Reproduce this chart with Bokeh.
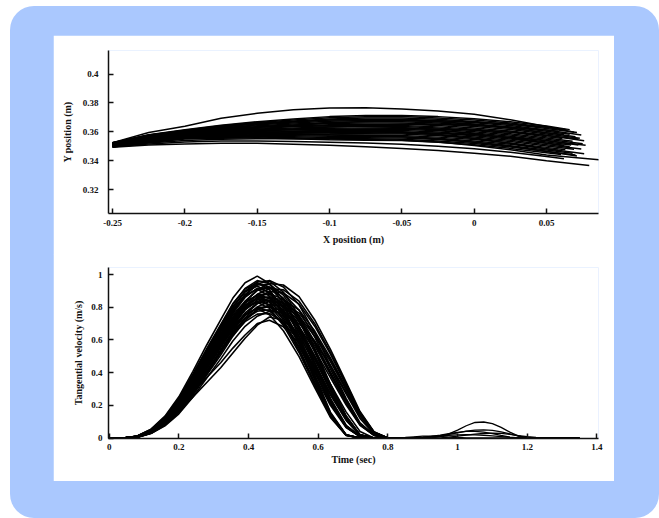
from bokeh.plotting import figure
from bokeh.layouts import column
from bokeh.models import Range1d, FixedTicker, CustomJSTickFormatter
from bokeh.embed import file_html
from bokeh.resources import INLINE

# ---------------- hand paths (top panel) ----------------
# x positions (m) where every trial's y position was sampled
path_x = [-0.25, -0.225, -0.2, -0.175, -0.15, -0.125, -0.1, -0.075, -0.05, -0.025, 0.0, 0.025, 0.05]

# y position (m) of each trial at path_x
path_y = [
    [0.3495, 0.3525, 0.3550, 0.3556, 0.3558, 0.3552, 0.3545, 0.3542, 0.3540, 0.3528, 0.3510, 0.3485, 0.3455],
    [0.3497, 0.3528, 0.3553, 0.3561, 0.3564, 0.3559, 0.3553, 0.3551, 0.3549, 0.3537, 0.3519, 0.3495, 0.3465],
    [0.3498, 0.3531, 0.3556, 0.3565, 0.3569, 0.3566, 0.3561, 0.3559, 0.3557, 0.3546, 0.3528, 0.3504, 0.3474],
    [0.3500, 0.3534, 0.3560, 0.3570, 0.3575, 0.3573, 0.3569, 0.3568, 0.3566, 0.3555, 0.3537, 0.3513, 0.3483],
    [0.3501, 0.3536, 0.3563, 0.3574, 0.3580, 0.3579, 0.3577, 0.3576, 0.3575, 0.3563, 0.3546, 0.3522, 0.3492],
    [0.3503, 0.3539, 0.3566, 0.3579, 0.3586, 0.3586, 0.3585, 0.3585, 0.3584, 0.3572, 0.3555, 0.3532, 0.3502],
    [0.3504, 0.3542, 0.3569, 0.3583, 0.3592, 0.3593, 0.3593, 0.3593, 0.3592, 0.3581, 0.3564, 0.3541, 0.3511],
    [0.3506, 0.3545, 0.3573, 0.3588, 0.3598, 0.3600, 0.3601, 0.3602, 0.3601, 0.3590, 0.3573, 0.3550, 0.3520],
    [0.3507, 0.3547, 0.3576, 0.3592, 0.3603, 0.3606, 0.3609, 0.3610, 0.3609, 0.3599, 0.3582, 0.3559, 0.3529],
    [0.3509, 0.3550, 0.3579, 0.3597, 0.3609, 0.3613, 0.3617, 0.3619, 0.3618, 0.3608, 0.3591, 0.3569, 0.3539],
    [0.3510, 0.3553, 0.3582, 0.3601, 0.3614, 0.3620, 0.3625, 0.3627, 0.3627, 0.3617, 0.3600, 0.3578, 0.3548],
    [0.3512, 0.3556, 0.3585, 0.3605, 0.3620, 0.3627, 0.3633, 0.3636, 0.3636, 0.3626, 0.3609, 0.3587, 0.3557],
    [0.3513, 0.3558, 0.3588, 0.3609, 0.3625, 0.3634, 0.3641, 0.3644, 0.3644, 0.3634, 0.3618, 0.3596, 0.3566],
    [0.3515, 0.3561, 0.3592, 0.3614, 0.3631, 0.3641, 0.3649, 0.3653, 0.3653, 0.3643, 0.3627, 0.3606, 0.3576],
    [0.3516, 0.3564, 0.3595, 0.3618, 0.3636, 0.3647, 0.3657, 0.3661, 0.3661, 0.3652, 0.3636, 0.3615, 0.3585],
    [0.3518, 0.3567, 0.3598, 0.3623, 0.3642, 0.3654, 0.3665, 0.3670, 0.3670, 0.3661, 0.3645, 0.3624, 0.3594],
    [0.3519, 0.3569, 0.3601, 0.3627, 0.3648, 0.3661, 0.3673, 0.3678, 0.3678, 0.3670, 0.3654, 0.3633, 0.3603],
    [0.3521, 0.3572, 0.3605, 0.3632, 0.3654, 0.3668, 0.3681, 0.3687, 0.3687, 0.3679, 0.3663, 0.3643, 0.3613],
    [0.3522, 0.3575, 0.3608, 0.3636, 0.3659, 0.3674, 0.3689, 0.3695, 0.3696, 0.3687, 0.3672, 0.3652, 0.3622],
    [0.3524, 0.3578, 0.3611, 0.3641, 0.3665, 0.3681, 0.3697, 0.3704, 0.3705, 0.3696, 0.3681, 0.3661, 0.3631],
    [0.3525, 0.3580, 0.3614, 0.3645, 0.3670, 0.3688, 0.3705, 0.3712, 0.3713, 0.3705, 0.3690, 0.3670, 0.3640],
    [0.3500, 0.3536, 0.3565, 0.3580, 0.3594, 0.3601, 0.3609, 0.3617, 0.3623, 0.3620, 0.3613, 0.3598, 0.3575],
    [0.3521, 0.3570, 0.3599, 0.3621, 0.3634, 0.3639, 0.3641, 0.3637, 0.3630, 0.3613, 0.3587, 0.3557, 0.3520],
    [0.3510, 0.3555, 0.3587, 0.3610, 0.3631, 0.3646, 0.3662, 0.3671, 0.3678, 0.3677, 0.3668, 0.3653, 0.3631],
    [0.3506, 0.3543, 0.3569, 0.3580, 0.3586, 0.3583, 0.3577, 0.3572, 0.3566, 0.3550, 0.3528, 0.3499, 0.3464],
    [0.3516, 0.3561, 0.3589, 0.3606, 0.3616, 0.3616, 0.3613, 0.3606, 0.3598, 0.3579, 0.3554, 0.3521, 0.3483],
    [0.3503, 0.3542, 0.3572, 0.3592, 0.3608, 0.3620, 0.3633, 0.3644, 0.3652, 0.3652, 0.3645, 0.3633, 0.3612],
    [0.3524, 0.3576, 0.3609, 0.3636, 0.3657, 0.3670, 0.3681, 0.3683, 0.3682, 0.3670, 0.3650, 0.3627, 0.3594],
    [0.3497, 0.3530, 0.3557, 0.3569, 0.3578, 0.3582, 0.3585, 0.3590, 0.3595, 0.3590, 0.3579, 0.3562, 0.3538],
    [0.3525, 0.3595, 0.3638, 0.3693, 0.3728, 0.3752, 0.3764, 0.3767, 0.3758, 0.3744, 0.3722, 0.3683, 0.3637],
    [0.3500, 0.3522, 0.3540, 0.3548, 0.3552, 0.3552, 0.3550, 0.3547, 0.3542, 0.3530, 0.3505, 0.3475, 0.3440],
    [0.3493, 0.3508, 0.3516, 0.3521, 0.3520, 0.3514, 0.3506, 0.3496, 0.3485, 0.3470, 0.3452, 0.3430, 0.3400],
    [0.3497, 0.3515, 0.3530, 0.3536, 0.3537, 0.3533, 0.3528, 0.3522, 0.3514, 0.3500, 0.3482, 0.3458, 0.3428],
]

# final hand position of each trial
path_end_x = [0.060, 0.071, 0.068, 0.058, 0.063, 0.069, 0.074, 0.062, 0.067, 0.072, 0.075,
              0.068, 0.061, 0.076, 0.073, 0.062, 0.066, 0.074, 0.071, 0.063, 0.066,
              0.072, 0.066, 0.064, 0.070, 0.076, 0.058, 0.070, 0.077, 0.069, 0.087, 0.0795, 0.062]
path_end_y = [0.3442, 0.3432, 0.3451, 0.3472, 0.3476, 0.3479, 0.3481, 0.3507, 0.3508, 0.3508, 0.3517,
              0.3535, 0.3553, 0.3538, 0.3556, 0.3581, 0.3583, 0.3577, 0.3595, 0.3615, 0.3615,
              0.3550, 0.3496, 0.3612, 0.3440, 0.3448, 0.3604, 0.3566, 0.3506, 0.3597, 0.3405, 0.3366, 0.3414]

x_ticks = [-0.25, -0.2, -0.15, -0.1, -0.05, 0.0, 0.05]
y_ticks = [0.32, 0.34, 0.36, 0.38, 0.4]

# ---------------- tangential velocity (bottom panel) ----------------
# sample times (s); denser around the peak and the start of the deceleration
time_main = [0.00, 0.04, 0.08, 0.12, 0.16, 0.20, 0.24, 0.28, 0.32, 0.355, 0.39,
             0.425, 0.46, 0.50, 0.545, 0.59, 0.635, 0.68, 0.72, 0.76, 0.80]

speed_main = [
    [0, 0, 0.012, 0.054, 0.134, 0.252, 0.406, 0.569, 0.723, 0.856, 0.950, 0.990, 0.945, 0.822, 0.624, 0.386, 0.158, 0.020, 0, 0, 0],
    [0, 0, 0.011, 0.052, 0.128, 0.242, 0.390, 0.546, 0.694, 0.822, 0.912, 0.950, 0.907, 0.789, 0.599, 0.371, 0.152, 0.019, 0, 0, 0],
    [0, 0, 0.011, 0.051, 0.126, 0.237, 0.381, 0.535, 0.679, 0.804, 0.893, 0.930, 0.888, 0.772, 0.586, 0.363, 0.149, 0.019, 0, 0, 0],
    [0, 0, 0.011, 0.050, 0.123, 0.232, 0.373, 0.523, 0.664, 0.787, 0.874, 0.910, 0.869, 0.755, 0.573, 0.355, 0.146, 0.018, 0, 0, 0],
    [0, 0, 0.010, 0.048, 0.117, 0.222, 0.357, 0.500, 0.635, 0.753, 0.835, 0.870, 0.831, 0.722, 0.548, 0.339, 0.139, 0.017, 0, 0, 0],
    [0, 0, 0.010, 0.047, 0.115, 0.217, 0.349, 0.489, 0.621, 0.735, 0.816, 0.850, 0.812, 0.706, 0.536, 0.332, 0.136, 0.017, 0, 0, 0],
    [0, 0, 0.010, 0.046, 0.112, 0.212, 0.340, 0.477, 0.606, 0.718, 0.797, 0.830, 0.793, 0.689, 0.523, 0.324, 0.133, 0.017, 0, 0, 0],
    [0, 0, 0.009, 0.043, 0.107, 0.201, 0.324, 0.454, 0.577, 0.683, 0.758, 0.790, 0.754, 0.656, 0.498, 0.308, 0.126, 0.016, 0, 0, 0],
    [0, 0, 0.010, 0.049, 0.121, 0.233, 0.378, 0.536, 0.687, 0.818, 0.915, 0.963, 0.944, 0.849, 0.679, 0.464, 0.243, 0.078, 0.010, 0, 0],
    [0, 0, 0.010, 0.048, 0.119, 0.228, 0.371, 0.525, 0.673, 0.801, 0.896, 0.943, 0.924, 0.831, 0.665, 0.454, 0.238, 0.076, 0.010, 0, 0],
    [0, 0, 0.009, 0.046, 0.115, 0.221, 0.359, 0.509, 0.651, 0.776, 0.868, 0.914, 0.895, 0.805, 0.644, 0.440, 0.230, 0.074, 0.009, 0, 0],
    [0, 0, 0.009, 0.044, 0.110, 0.211, 0.343, 0.487, 0.623, 0.742, 0.830, 0.874, 0.856, 0.770, 0.616, 0.421, 0.220, 0.070, 0.009, 0, 0],
    [0, 0, 0.009, 0.043, 0.108, 0.206, 0.335, 0.476, 0.609, 0.725, 0.811, 0.854, 0.837, 0.753, 0.602, 0.411, 0.215, 0.069, 0.009, 0, 0],
    [0, 0, 0.008, 0.042, 0.105, 0.202, 0.328, 0.465, 0.595, 0.708, 0.792, 0.834, 0.817, 0.735, 0.588, 0.402, 0.210, 0.067, 0.008, 0, 0],
    [0, 0, 0.008, 0.040, 0.100, 0.192, 0.312, 0.442, 0.566, 0.674, 0.754, 0.794, 0.778, 0.700, 0.560, 0.382, 0.200, 0.064, 0.008, 0, 0],
    [0, 0, 0.008, 0.044, 0.112, 0.218, 0.359, 0.514, 0.664, 0.795, 0.897, 0.955, 0.960, 0.892, 0.747, 0.548, 0.330, 0.136, 0.019, 0, 0],
    [0, 0, 0.008, 0.043, 0.109, 0.214, 0.352, 0.504, 0.651, 0.779, 0.879, 0.936, 0.941, 0.874, 0.732, 0.537, 0.323, 0.133, 0.019, 0, 0],
    [0, 0, 0.007, 0.042, 0.107, 0.209, 0.344, 0.493, 0.637, 0.763, 0.860, 0.916, 0.921, 0.856, 0.716, 0.525, 0.316, 0.130, 0.019, 0, 0],
    [0, 0, 0.007, 0.040, 0.102, 0.200, 0.329, 0.472, 0.610, 0.730, 0.823, 0.877, 0.881, 0.819, 0.685, 0.503, 0.303, 0.125, 0.018, 0, 0],
    [0, 0, 0.007, 0.039, 0.100, 0.196, 0.322, 0.461, 0.596, 0.713, 0.805, 0.857, 0.861, 0.800, 0.670, 0.492, 0.296, 0.122, 0.017, 0, 0],
    [0, 0, 0.007, 0.038, 0.098, 0.191, 0.315, 0.451, 0.582, 0.697, 0.786, 0.837, 0.842, 0.782, 0.655, 0.480, 0.289, 0.119, 0.017, 0, 0],
    [0, 0, 0.006, 0.036, 0.093, 0.182, 0.300, 0.429, 0.555, 0.664, 0.749, 0.798, 0.802, 0.745, 0.624, 0.458, 0.275, 0.113, 0.016, 0, 0],
    [0, 0, 0.006, 0.035, 0.089, 0.173, 0.285, 0.408, 0.527, 0.631, 0.712, 0.758, 0.762, 0.708, 0.593, 0.435, 0.262, 0.108, 0.015, 0, 0],
    [0, 0, 0.007, 0.039, 0.102, 0.202, 0.335, 0.485, 0.633, 0.766, 0.873, 0.941, 0.963, 0.924, 0.815, 0.643, 0.441, 0.243, 0.092, 0.019, 0],
    [0, 0, 0.007, 0.037, 0.098, 0.193, 0.321, 0.465, 0.607, 0.735, 0.837, 0.902, 0.923, 0.886, 0.781, 0.617, 0.423, 0.233, 0.088, 0.019, 0],
    [0, 0, 0.006, 0.036, 0.093, 0.185, 0.307, 0.445, 0.581, 0.703, 0.801, 0.863, 0.884, 0.848, 0.748, 0.590, 0.405, 0.223, 0.085, 0.018, 0],
    [0, 0, 0.006, 0.035, 0.091, 0.181, 0.300, 0.435, 0.568, 0.687, 0.783, 0.844, 0.864, 0.829, 0.731, 0.577, 0.396, 0.218, 0.083, 0.017, 0],
    [0, 0, 0.006, 0.034, 0.089, 0.177, 0.293, 0.425, 0.555, 0.672, 0.765, 0.825, 0.844, 0.810, 0.714, 0.564, 0.387, 0.213, 0.081, 0.017, 0],
    [0, 0, 0.006, 0.032, 0.085, 0.168, 0.279, 0.405, 0.529, 0.640, 0.729, 0.786, 0.804, 0.772, 0.680, 0.537, 0.369, 0.203, 0.077, 0.016, 0],
    [0, 0, 0.005, 0.033, 0.090, 0.181, 0.304, 0.447, 0.589, 0.722, 0.831, 0.907, 0.945, 0.936, 0.865, 0.722, 0.542, 0.342, 0.162, 0.038, 0],
    [0, 0, 0.005, 0.032, 0.087, 0.175, 0.294, 0.432, 0.570, 0.699, 0.805, 0.879, 0.915, 0.906, 0.837, 0.699, 0.524, 0.331, 0.156, 0.037, 0],
    [0, 0, 0.005, 0.032, 0.086, 0.171, 0.288, 0.423, 0.558, 0.684, 0.788, 0.860, 0.896, 0.887, 0.819, 0.684, 0.513, 0.324, 0.153, 0.036, 0],
    [0, 0, 0.004, 0.030, 0.082, 0.163, 0.275, 0.404, 0.533, 0.654, 0.753, 0.821, 0.856, 0.847, 0.783, 0.654, 0.490, 0.310, 0.146, 0.034, 0],
    [0, 0, 0.004, 0.029, 0.080, 0.160, 0.269, 0.395, 0.521, 0.638, 0.735, 0.802, 0.836, 0.827, 0.764, 0.638, 0.479, 0.302, 0.143, 0.034, 0],
    [0, 0, 0.004, 0.029, 0.078, 0.156, 0.262, 0.385, 0.508, 0.623, 0.718, 0.783, 0.816, 0.808, 0.746, 0.623, 0.467, 0.295, 0.139, 0.033, 0],
    [0, 0, 0.004, 0.027, 0.074, 0.148, 0.250, 0.367, 0.484, 0.593, 0.683, 0.745, 0.776, 0.768, 0.710, 0.593, 0.445, 0.281, 0.133, 0.031, 0],
    [0, 0, 0.010, 0.045, 0.100, 0.170, 0.250, 0.340, 0.430, 0.520, 0.610, 0.690, 0.740, 0.720, 0.640, 0.500, 0.330, 0.160, 0.040, 0, 0],
    [0, 0, 0.010, 0.050, 0.110, 0.190, 0.280, 0.370, 0.460, 0.550, 0.630, 0.700, 0.720, 0.680, 0.580, 0.430, 0.270, 0.120, 0.020, 0, 0],
    [0, 0, 0.005, 0.030, 0.085, 0.170, 0.280, 0.410, 0.540, 0.650, 0.730, 0.775, 0.785, 0.760, 0.700, 0.590, 0.440, 0.270, 0.120, 0.025, 0],
]

# corrective sub-movements after the main stroke
time_tail = [0.800, 0.825, 0.850, 0.875, 0.900, 0.925, 0.950, 0.975, 1.000, 1.025, 1.050, 1.075,
             1.100, 1.125, 1.150, 1.175, 1.200, 1.225, 1.250, 1.275, 1.300, 1.325, 1.350]

speed_tail = [
    [0, 0, 0, 0, 0, 0.001, 0.008, 0.025, 0.048, 0.075, 0.095, 0.098, 0.088, 0.065, 0.036, 0.012, 0.002, 0, 0, 0, 0, 0, 0],
    [0, 0, 0, 0, 0.001, 0.005, 0.012, 0.022, 0.032, 0.042, 0.048, 0.050, 0.047, 0.038, 0.025, 0.012, 0.003, 0, 0, 0, 0, 0, 0],
    [0, 0, 0, 0.001, 0.004, 0.010, 0.018, 0.027, 0.035, 0.040, 0.040, 0.036, 0.027, 0.016, 0.006, 0.001, 0, 0, 0, 0, 0, 0, 0],
    [0, 0, 0, 0, 0, 0, 0.001, 0.005, 0.011, 0.018, 0.024, 0.028, 0.030, 0.028, 0.022, 0.015, 0.008, 0.003, 0.001, 0, 0, 0, 0],
    [0, 0, 0.001, 0.003, 0.006, 0.010, 0.014, 0.017, 0.019, 0.020, 0.019, 0.017, 0.013, 0.009, 0.005, 0.002, 0.001, 0, 0, 0, 0, 0, 0],
    [0, 0.001, 0.003, 0.007, 0.011, 0.012, 0.010, 0.006, 0.003, 0.001, 0, 0, 0, 0, 0, 0, 0, 0, 0, 0, 0, 0, 0],
]

t_ticks = [0, 0.2, 0.4, 0.6, 0.8, 1.0, 1.2, 1.4]
v_ticks = [0, 0.2, 0.4, 0.6, 0.8, 1.0]

FONT = "Liberation Serif"
INK = "#111111"


def style_axes(p, x_label_standoff, x_title_standoff, y_label_standoff, y_title_standoff):
    fmt = CustomJSTickFormatter(code="return String(Math.round(tick * 1000) / 1000);")
    for ax in (p.xaxis[0], p.yaxis[0]):
        ax.axis_line_width = 1.5
        ax.axis_line_color = INK
        ax.major_tick_in = 5
        ax.major_tick_out = 0
        ax.major_tick_line_width = 1.5
        ax.major_tick_line_color = INK
        ax.minor_tick_line_color = None
        ax.major_label_text_font = FONT
        ax.major_label_text_font_size = "9px"
        ax.major_label_text_font_style = "bold"
        ax.major_label_text_color = INK
        ax.axis_label_text_font = FONT
        ax.axis_label_text_font_size = "10px"
        ax.axis_label_text_font_style = "bold"
        ax.axis_label_text_color = INK
        ax.formatter = fmt
    p.xaxis.major_label_standoff = x_label_standoff
    p.xaxis.axis_label_standoff = x_title_standoff
    p.yaxis.major_label_standoff = y_label_standoff
    p.yaxis.axis_label_standoff = y_title_standoff
    p.grid.visible = False
    p.outline_line_color = None
    p.background_fill_color = "white"
    p.border_fill_color = "white"


# top: hand paths in the horizontal plane
top = figure(width=561, height=220, output_backend="svg", toolbar_location=None,
             x_range=Range1d(-0.2528, 0.0859), y_range=Range1d(0.3034, 0.4163),
             min_border_left=55, min_border_right=16, min_border_top=15, min_border_bottom=42,
             margin=(29, 45, 0, 43))
top.xaxis.ticker = FixedTicker(ticks=x_ticks)
top.yaxis.ticker = FixedTicker(ticks=y_ticks)
top.xaxis.axis_label = "X position (m)"
top.yaxis.axis_label = "Y position (m)"
style_axes(top, 6, 5, 10, 7)

path_xs = [path_x + [ex] for ex in path_end_x]
path_ys = [row + [ey] for row, ey in zip(path_y, path_end_y)]
top.multi_line(path_xs, path_ys, line_color="black", line_width=1.5)

# bottom: tangential velocity profiles (overlaps the top panel by one pixel)
bot = figure(width=561, height=227, output_backend="svg", toolbar_location=None,
             x_range=Range1d(-0.002, 1.4045), y_range=Range1d(-0.003, 1.043),
             min_border_left=51, min_border_right=16, min_border_top=13, min_border_bottom=43,
             margin=(-1, 45, 37, 43))
bot.xaxis.ticker = FixedTicker(ticks=t_ticks)
bot.yaxis.ticker = FixedTicker(ticks=v_ticks)
bot.xaxis.axis_label = "Time (sec)"
bot.yaxis.axis_label = "Tangential velocity (m/s)"
style_axes(bot, 5, 1, 6, 4)

bot.multi_line([time_main] * len(speed_main), speed_main, line_color="black", line_width=1.6)
bot.multi_line([time_tail] * len(speed_tail), speed_tail, line_color="black", line_width=1.3)

page = column(top, bot, margin=(6, 0, 0, 10),
              styles={"background-color": "#aac8fe", "border-radius": "24px"})

open("out.html", "w").write(file_html(page, INLINE))
